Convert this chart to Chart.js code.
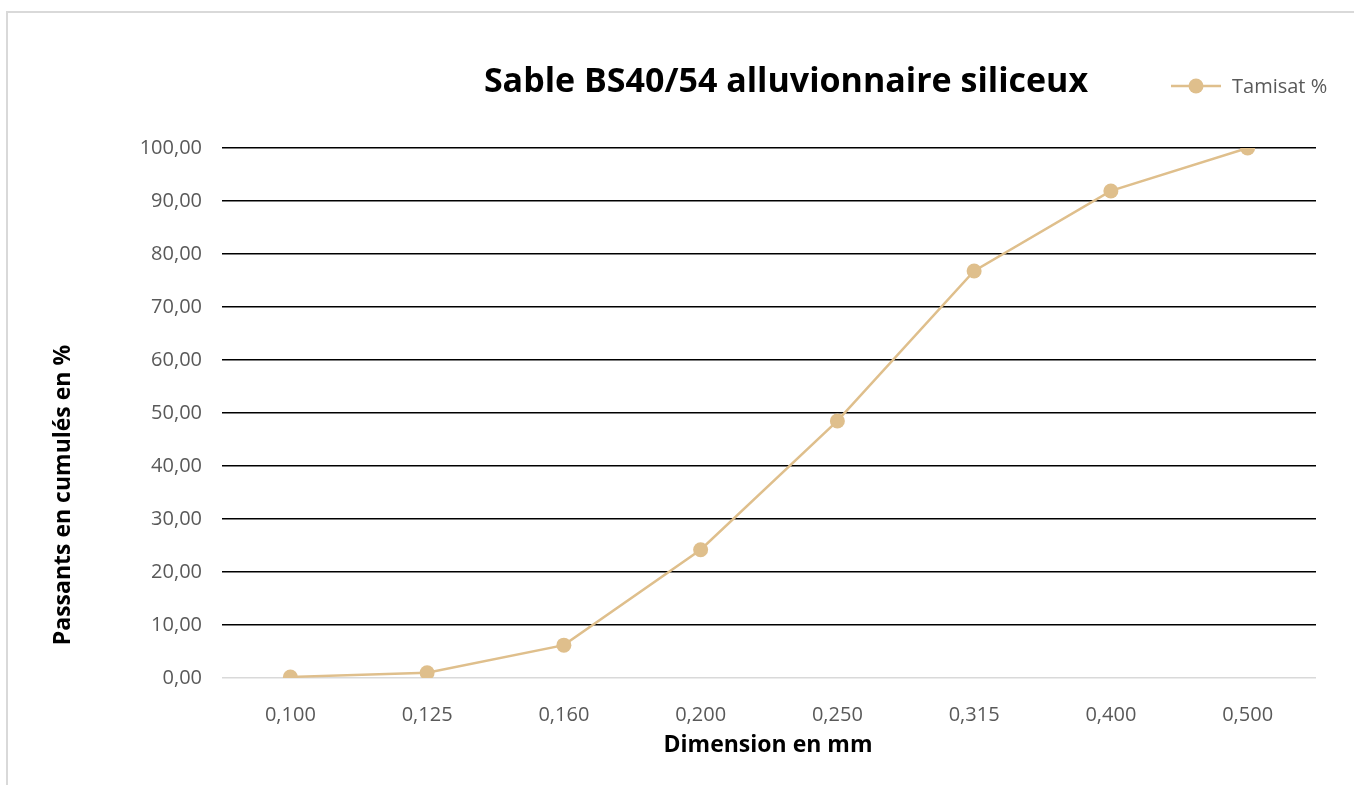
<!DOCTYPE html>
<html>
<head>
<meta charset="utf-8">
<script src="https://cdn.jsdelivr.net/npm/chart.js@4"></script>
<style>
  html, body { margin: 0; padding: 0; background: #fff; }
  #wrap { position: relative; width: 1354px; height: 785px; overflow: hidden; }
  #frame { position: absolute; left: 6px; top: 11px; width: 1400px; height: 800px; border: 2px solid #d9d9d9; box-sizing: border-box; }
  #chart { position: absolute; left: 0; top: 0; }
</style>
</head>
<body>
<div id="wrap">
  <div id="frame"></div>
  <canvas id="chart" width="1354" height="785"></canvas>
</div>
<script>
// tamis (mm) et passants cumulés (%)
let sieves = ["0,100", "0,125", "0,160", "0,200", "0,250", "0,315", "0,400", "0,500"];
let passing = [0.2, 1.0, 6.2, 24.2, 48.5, 76.8, 91.9, 100.0];
let seriesName = "Tamisat %";
let chartTitle = "Sable BS40/54 alluvionnaire siliceux";
let xTitle = "Dimension en mm";
let yTitle = "Passants en cumulés en %";

let tan = '#dfbf8c';
let grey = '#595959';
let fontName = "'Open Sans', 'Noto Sans', sans-serif";

// titre, légende et titres d'axes placés comme dans Excel
let headerPlugin = {
    id: 'header',
    afterDraw(chart) {
        let ctx = chart.ctx;
        ctx.save();
        ctx.textBaseline = 'middle';

        ctx.fillStyle = '#000';
        ctx.font = "bold 34px " + fontName;
        ctx.textAlign = 'center';
        ctx.fillText(chartTitle, 786, 82);

        ctx.font = "bold 23px " + fontName;
        ctx.fillText(xTitle, 768, 745);

        ctx.save();
        ctx.translate(63, 495);
        ctx.rotate(-Math.PI / 2);
        ctx.fillText(yTitle, 0, 0);
        ctx.restore();

        ctx.strokeStyle = tan;
        ctx.lineWidth = 2.5;
        ctx.beginPath();
        ctx.moveTo(1171, 86);
        ctx.lineTo(1221, 86);
        ctx.stroke();
        ctx.fillStyle = tan;
        ctx.beginPath();
        ctx.arc(1196, 86, 7.5, 0, Math.PI * 2);
        ctx.fill();

        ctx.fillStyle = grey;
        ctx.font = "20px " + fontName;
        ctx.textAlign = 'left';
        ctx.fillText(seriesName, 1232, 87);
        ctx.restore();
    }
};

let ctx = document.getElementById("chart").getContext('2d');

let myChart = new Chart(ctx, {
    type: 'line',
    data: {
        labels: sieves,
        datasets: [{
            label: seriesName,
            data: passing,
            borderColor: tan,
            backgroundColor: tan,
            borderWidth: 2.5,
            pointRadius: 7.5,
            pointHoverRadius: 7.5,
            pointBorderWidth: 0,
            tension: 0
        }]
    },
    options: {
        responsive: false,
        animation: false,
        layout: { padding: { left: 40, right: 38, top: 148, bottom: 20 } },
        plugins: {
            legend: { display: false },
            title: { display: false },
            tooltip: { enabled: false }
        },
        scales: {
            x: {
                offset: true,
                grid: { display: false },
                border: { display: false },
                ticks: { color: grey, font: { family: fontName, size: 20 }, padding: 17 },
                afterFit(scale) { scale.height = 785 - 678 - 20; }
            },
            y: {
                min: 0,
                max: 100,
                ticks: {
                    stepSize: 10,
                    color: grey,
                    font: { family: fontName, size: 20 },
                    padding: 20,
                    callback: v => v.toFixed(2).replace('.', ',')
                },
                grid: {
                    drawTicks: false,
                    lineWidth: 1.5,
                    color: c => c.tick.value === 0 ? '#d9d9d9' : '#000'
                },
                border: { display: false },
                afterFit(scale) { scale.width = 222 - 40; }
            }
        }
    },
    plugins: [headerPlugin]
});
</script>
</body>
</html>
